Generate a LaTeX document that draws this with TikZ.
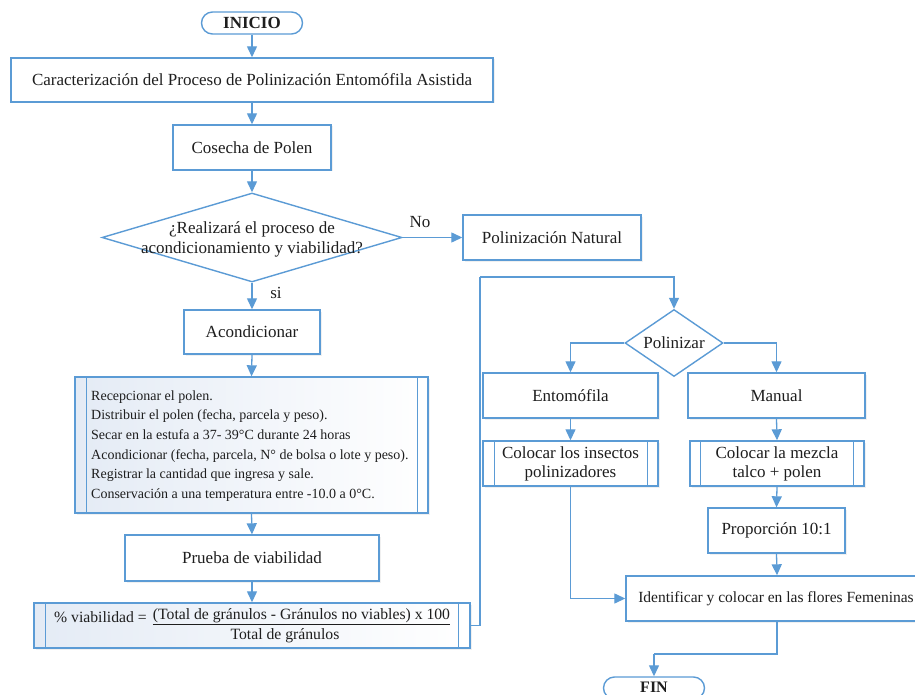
\documentclass[tikz,border=0pt]{standalone}
\usepackage{fontspec}
\setmainfont{Liberation Serif}
\usetikzlibrary{shapes.geometric,arrows.meta,shadows}
\definecolor{lblue}{HTML}{5B9BD5}
\definecolor{txt}{HTML}{1E1E1E}
\definecolor{tint}{HTML}{E4EBF5}
\begin{document}
\begin{tikzpicture}[x=1pt,y=-1pt,
  boxline/.style={draw=lblue,line width=1.4pt},
  proc/.style={boxline,fill=white,minimum width=#1,minimum height=45,inner sep=0,
    font=\fontsize{17}{20}\selectfont,text=txt,align=center,
    drop shadow={opacity=0.12,shadow xshift=1.5pt,shadow yshift=-1.5pt}},
  shaded/.style={boxline,left color=tint,right color=white,inner sep=0,
    drop shadow={opacity=0.12,shadow xshift=1.5pt,shadow yshift=-1.5pt}},
  term/.style={boxline,fill=white,rounded corners=11pt,minimum width=101,minimum height=22,
    inner sep=0,font=\bfseries\fontsize{17}{20}\selectfont,text=txt},
  dec/.style={boxline,diamond,fill=white,inner sep=0,minimum width=#1},
  lbl/.style={font=\fontsize{17}{20}\selectfont,text=txt,inner sep=0},
  conn/.style={draw=lblue,line width=1.3pt,-{Triangle[length=11pt,width=10pt]}},
  plainconn/.style={draw=lblue,line width=1.3pt}
]
\useasboundingbox (0,0) rectangle (915,695);
\clip (0,0) rectangle (915,695);

% left column
\node[term] (inicio) at (252,23) {INICIO};
\node[proc=482,minimum height=44] (carac) at (252,80) {Caracterización del Proceso de Polinización Entomófila Asistida};
\node[proc=158] (cosecha) at (252,147.5) {Cosecha de Polen};
\node[dec=300,minimum height=89] (dec1) at (252,237.5) {};
\node[lbl,align=center] (dec1t) at (252,239) {¿Realizará el proceso de\\acondicionamiento y viabilidad?};
\node[proc=178] (polnat) at (552,237.5) {Polinización Natural};
\node[lbl] (no) at (420,222) {No};
\node[lbl] (si) at (276,293) {si};
\node[proc=136,minimum height=44] (acond) at (252,332) {Acondicionar};

\node[shaded,minimum width=353,minimum height=136] (rec) at (251.5,445) {};
\draw[boxline] ([xshift=12]rec.north west) -- ([xshift=12]rec.south west);
\draw[boxline] ([xshift=-11]rec.north east) -- ([xshift=-11]rec.south east);
\node[anchor=west,align=left,inner sep=0,text=txt,font=\fontsize{14}{19.6}\selectfont] (rect) at (91,446)
  {Recepcionar el polen.\\
   Distribuir el polen (fecha, parcela y peso).\\
   Secar en la estufa a 37- 39°C  durante 24 horas\\
   Acondicionar (fecha, parcela, N° de bolsa o lote y peso).\\
   Registrar la cantidad que ingresa y sale.\\
   Conservación a una temperatura entre -10.0  a 0°C.};

\node[proc=254,minimum height=46] (prueba) at (252,558) {Prueba de viabilidad};

\node[shaded,minimum width=436,minimum height=45] (formula) at (252,625.5) {};
\draw[boxline] ([xshift=12]formula.north west) -- ([xshift=12]formula.south west);
\draw[boxline] ([xshift=-12]formula.north east) -- ([xshift=-12]formula.south east);
\node[anchor=west,inner sep=0,text=txt,font=\fontsize{15.7}{18}\selectfont] (f1) at (54,617) {\% viabilidad =};
\node[inner sep=0,text=txt,font=\fontsize{15.7}{18}\selectfont] (f2) at (301.5,617) {\underline{(Total de gránulos - Gránulos no viables) x 100}};
\node[inner sep=0,text=txt,font=\fontsize{15.7}{18}\selectfont] (f3) at (285,636) {Total de gránulos};

% right column
\node[dec=98,minimum height=67] (poli) at (674,343) {};
\node[lbl] (polit) at (674,343) {Polinizar};
\node[proc=175] (entom) at (570.5,395.5) {Entomófila};
\node[proc=177] (manual) at (776.5,395.5) {Manual};
\node[proc=175] (colocI) at (570.5,463.5) {Colocar los insectos\\[-1pt]polinizadores};
\draw[boxline] ([xshift=12]colocI.north west) -- ([xshift=12]colocI.south west);
\draw[boxline] ([xshift=-11]colocI.north east) -- ([xshift=-11]colocI.south east);
\node[proc=174] (colocM) at (777,463.5) {Colocar la mezcla\\[-1pt]talco + polen};
\draw[boxline] ([xshift=11]colocM.north west) -- ([xshift=11]colocM.south west);
\draw[boxline] ([xshift=-11]colocM.north east) -- ([xshift=-11]colocM.south east);
\node[proc=137] (prop) at (776.5,530.5) {Proporción 10:1};
\node[proc=302] (ident) at (777,598.5) {};
\node[lbl,font=\fontsize{15.5}{18}\selectfont] (identt) at (776,598.5) {Identificar y colocar en las flores Femeninas};
\node[term] (fin) at (654,688) {};
\node[inner sep=0,font=\bfseries\fontsize{16}{18}\selectfont,text=txt] (fint) at (654,687) {FIN};

% connectors
\coordinate (loopA) at (480,277);
\coordinate (midF) at (654,654);
\draw[conn] (inicio.south) -- (carac.north);
\draw[conn] (carac.south) -- (cosecha.north);
\draw[conn] (cosecha.south) -- (dec1.north);
\draw[conn] (dec1.east) -- (polnat.west);
\draw[conn] (dec1.south) -- (acond.north);
\draw[conn] (acond.south) -- (rec.north);
\draw[conn] (rec.south) -- (prueba.north);
\draw[conn] (prueba.south) -- (formula.north);
\draw[plainconn] (formula.east) -| (loopA);
\draw[conn] (loopA) -| (poli.north);
\draw[conn] (poli.west) -| (entom.north);
\draw[conn] (poli.east) -| (manual.north);
\draw[conn] (entom.south) -- (colocI.north);
\draw[conn] (manual.south) -- (colocM.north);
\draw[conn] (colocM.south) -- (prop.north);
\draw[conn] (prop.south) -- (ident.north);
\draw[conn] (colocI.south) |- (ident.west);
\draw[plainconn] (ident.south) |- (midF);
\draw[conn] (midF) -- (fin.north);
\end{tikzpicture}
\end{document}
